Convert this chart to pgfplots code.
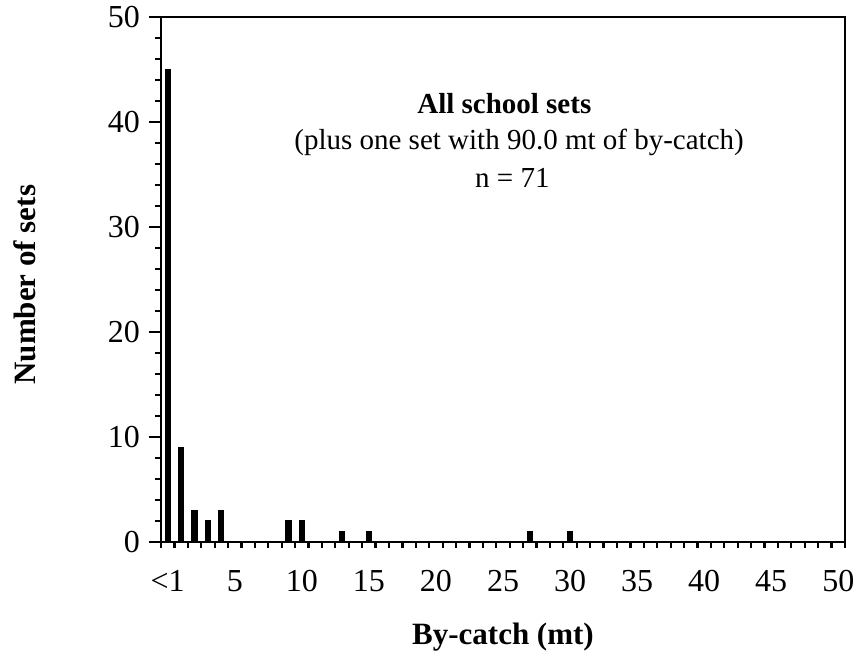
\documentclass[border=0pt]{standalone}
\usepackage{pgfplots}
\pgfplotsset{compat=1.18}
\usepackage{fontspec}
\setmainfont{Liberation Serif}
\begin{document}
\begin{tikzpicture}
\path[use as bounding box] (-80.5pt,-57.5pt) rectangle (347pt,271pt);
\begin{axis}[
  at={(0,0)}, anchor=south west,
  scale only axis,
  width=342pt, height=262.5pt,
  xmin=-0.5, xmax=50.5,
  ymin=0, ymax=50,
  axis line style={line width=1.1pt},
  xtick={0,5,10,15,20,25,30,35,40,45,50},
  xticklabels={<1,5,10,15,20,25,30,35,40,45,50},
  minor xtick={-0.5,0.5,...,50.5},
  ytick={0,10,20,30,40,50},
  minor ytick={2,4,6,8,12,14,16,18,22,24,26,28,32,34,36,38,42,44,46,48},
  xtick pos=bottom, ytick pos=left,
  tick align=outside,
  major tick length=6pt,
  minor tick length=3pt,
  tick style={line width=1.1pt, black},
  major x tick style={draw=none},
  /pgf/number format/assume math mode=true,
  ticklabel style={font=\fontsize{16}{19}\selectfont},
  yticklabel style={xshift=-1pt},
  xticklabel style={text height=11pt, text depth=0pt, yshift=-4pt},
  xlabel={By-catch (mt)},
  ylabel={Number of sets},
  label style={font=\fontsize{15.5}{18}\selectfont\bfseries},
  xlabel style={at={(axis description cs:0.5,0)}, anchor=center, yshift=-47.5pt},
  ylabel style={at={(axis description cs:-0.199,0.49)}, anchor=center},
  ybar, bar width=2.6pt,
]
\addplot[fill=black, draw=black, line width=0pt] coordinates {
 (0,45) (1,9) (2,3) (3,2) (4,3) (9,2) (10,2) (13,1) (15,1) (27,1) (30,1)
};
\node[font=\fontsize{14.5}{17}\selectfont\bfseries] at (axis cs:25.1,41.8) {All school sets};
\node[font=\fontsize{14.5}{17}\selectfont] at (axis cs:26.2,38.1) {(plus one set with 90.0 mt of by-catch)};
\node[font=\fontsize{14.5}{17}\selectfont] at (axis cs:25.7,34.7) {n = 71};
\end{axis}
\end{tikzpicture}
\end{document}
